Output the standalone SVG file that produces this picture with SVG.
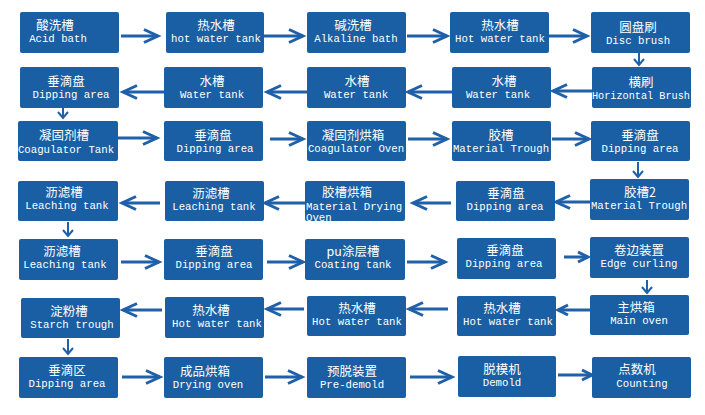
<svg xmlns="http://www.w3.org/2000/svg" width="705" height="415" viewBox="0 0 705 415">
<style>
.b{fill:#1a5fa3;}
.cn{font-family:"Noto Sans CJK SC","Noto Sans",sans-serif;font-size:12.5px;fill:#fff;text-anchor:middle;}
.en{font-family:"Liberation Mono","DejaVu Sans Mono",monospace;font-size:10.7px;fill:#fff;text-anchor:middle;}
.l{text-anchor:start;}
.a{stroke:#1f60a8;stroke-width:3;fill:none;}
.v{stroke:#1f60a8;stroke-width:2;fill:none;}
</style>
<defs>
<marker id="h" markerUnits="userSpaceOnUse" markerWidth="20" markerHeight="20" viewBox="-16 -10 20 20" refX="0" refY="0" orient="auto" overflow="visible">
<path d="M-14,-6.5 L0,0 L-14,6.5" fill="none" stroke="#1f60a8" stroke-width="3"/>
</marker>
<marker id="hs" markerUnits="userSpaceOnUse" markerWidth="20" markerHeight="20" viewBox="-16 -10 20 20" refX="0" refY="0" orient="auto" overflow="visible">
<path d="M-10,-5 L0,0 L-10,5" fill="none" stroke="#1f60a8" stroke-width="3"/>
</marker>
<marker id="hv" markerUnits="userSpaceOnUse" markerWidth="20" markerHeight="20" viewBox="-16 -10 20 20" refX="0" refY="0" orient="auto" overflow="visible">
<path d="M-6,-5 L0,0 L-6,5" fill="none" stroke="#1f60a8" stroke-width="2"/>
</marker>
</defs>
<rect width="705" height="415" fill="#fff"/>

<g id="connectors">
<line class="a" x1="121" y1="36" x2="158" y2="36" marker-end="url(#h)"/>
<line class="a" x1="264" y1="36" x2="303" y2="36" marker-end="url(#h)"/>
<line class="a" x1="407" y1="36" x2="447" y2="36" marker-end="url(#h)"/>
<line class="a" x1="549" y1="36" x2="587" y2="36" marker-end="url(#h)"/>
<line class="v" x1="639" y1="53" x2="639" y2="65" marker-end="url(#hv)"/>
<line class="a" x1="592" y1="91" x2="553" y2="91" marker-end="url(#h)"/>
<line class="a" x1="452" y1="92" x2="408" y2="92" marker-end="url(#h)"/>
<line class="a" x1="307" y1="92" x2="267" y2="92" marker-end="url(#h)"/>
<line class="a" x1="164" y1="92" x2="123" y2="92" marker-end="url(#h)"/>
<line class="v" x1="63" y1="108" x2="63" y2="118" marker-end="url(#hv)"/>
<line class="a" x1="118" y1="138" x2="157" y2="138" marker-end="url(#h)"/>
<line class="a" x1="270" y1="139" x2="303" y2="139" marker-end="url(#h)"/>
<line class="a" x1="408" y1="139" x2="447" y2="139" marker-end="url(#h)"/>
<line class="a" x1="552" y1="139" x2="589" y2="139" marker-end="url(#h)"/>
<line class="v" x1="638" y1="162" x2="638" y2="177" marker-end="url(#hv)"/>
<line class="a" x1="590" y1="202" x2="556" y2="202" marker-end="url(#h)"/>
<line class="a" x1="451" y1="203" x2="413" y2="203" marker-end="url(#h)"/>
<line class="a" x1="305" y1="203" x2="265" y2="203" marker-end="url(#h)"/>
<line class="a" x1="160" y1="203" x2="122" y2="203" marker-end="url(#h)"/>
<line class="v" x1="68" y1="222" x2="68" y2="236" marker-end="url(#hv)"/>
<line class="a" x1="121" y1="262" x2="159" y2="262" marker-end="url(#h)"/>
<line class="a" x1="267" y1="262" x2="303" y2="262" marker-end="url(#h)"/>
<line class="a" x1="407" y1="262" x2="445" y2="262" marker-end="url(#h)"/>
<line class="a" x1="564" y1="257" x2="588" y2="257" marker-end="url(#hs)"/>
<line class="v" x1="647" y1="280" x2="647" y2="293" marker-end="url(#hv)"/>
<line class="a" x1="590" y1="310" x2="558" y2="310" marker-end="url(#hs)"/>
<line class="a" x1="448" y1="309" x2="409" y2="309" marker-end="url(#h)"/>
<line class="a" x1="304" y1="309" x2="267" y2="309" marker-end="url(#h)"/>
<line class="a" x1="162" y1="310" x2="123" y2="310" marker-end="url(#h)"/>
<line class="v" x1="68" y1="339" x2="68" y2="354" marker-end="url(#hv)"/>
<line class="a" x1="122" y1="377" x2="160" y2="377" marker-end="url(#h)"/>
<line class="a" x1="265" y1="377" x2="302" y2="377" marker-end="url(#h)"/>
<line class="a" x1="410" y1="377" x2="452" y2="377" marker-end="url(#h)"/>
<line class="a" x1="558" y1="375" x2="592" y2="375" marker-end="url(#hs)"/>
</g>

<g id="n1"><rect class="b" x="20" y="12" width="99" height="41" rx="2"/><text class="cn" x="55" y="30">酸洗槽</text><text class="en" x="58" y="42">Acid bath</text></g>
<g id="n2"><rect class="b" x="166" y="12" width="98" height="41" rx="2"/><text class="cn" x="216" y="30">热水槽</text><text class="en" x="216" y="42">hot water tank</text></g>
<g id="n3"><rect class="b" x="307" y="12" width="99" height="41" rx="2"/><text class="cn" x="353" y="30">碱洗槽</text><text class="en" x="356" y="42">Alkaline bath</text></g>
<g id="n4"><rect class="b" x="450" y="12" width="99" height="41" rx="2"/><text class="cn" x="500" y="30">热水槽</text><text class="en" x="500" y="42">Hot water tank</text></g>
<g id="n5"><rect class="b" x="591" y="12" width="99" height="41" rx="2"/><text class="cn" x="638" y="32">圆盘刷</text><text class="en" x="638" y="44">Disc brush</text></g>

<g id="n6"><rect class="b" x="20" y="67" width="99" height="41" rx="2"/><text class="cn" x="66" y="86">垂滴盘</text><text class="en" x="71" y="98">Dipping area</text></g>
<g id="n7"><rect class="b" x="164" y="67" width="99" height="41" rx="2"/><text class="cn" x="212" y="86">水槽</text><text class="en" x="212" y="98">Water tank</text></g>
<g id="n8"><rect class="b" x="307" y="67" width="99" height="41" rx="2"/><text class="cn" x="357" y="86">水槽</text><text class="en" x="356" y="98">Water tank</text></g>
<g id="n9"><rect class="b" x="452" y="67" width="99" height="41" rx="2"/><text class="cn" x="504" y="86">水槽</text><text class="en" x="498" y="98">Water tank</text></g>
<g id="n10"><rect class="b" x="592" y="67" width="99" height="41" rx="2"/><text class="cn" x="641" y="87">横刷</text><text class="en" x="641" y="99" textLength="98" lengthAdjust="spacingAndGlyphs">Horizontal Brush</text></g>

<g id="n11"><rect class="b" x="18" y="121" width="100" height="40" rx="2"/><text class="cn" x="64" y="140">凝固剂槽</text><text class="en" x="66" y="153">Coagulator Tank</text></g>
<g id="n12"><rect class="b" x="164" y="121" width="99" height="40" rx="2"/><text class="cn" x="213" y="140">垂滴盘</text><text class="en" x="215" y="152">Dipping area</text></g>
<g id="n13"><rect class="b" x="307" y="121" width="99" height="40" rx="2"/><text class="cn" x="353" y="140">凝固剂烘箱</text><text class="en" x="356" y="152">Coagulator Oven</text></g>
<g id="n14"><rect class="b" x="452" y="121" width="99" height="40" rx="2"/><text class="cn" x="501" y="140">胶槽</text><text class="en" x="501" y="152">Material Trough</text></g>
<g id="n15"><rect class="b" x="591" y="121" width="99" height="40" rx="2"/><text class="cn" x="640" y="140">垂滴盘</text><text class="en" x="640" y="152">Dipping area</text></g>

<g id="n16"><rect class="b" x="18" y="181" width="100" height="40" rx="2"/><text class="cn" x="64" y="197">沥滤槽</text><text class="en" x="67" y="209">Leaching tank</text></g>
<g id="n17"><rect class="b" x="165" y="181" width="99" height="40" rx="2"/><text class="cn" x="211" y="198">沥滤槽</text><text class="en" x="214" y="210">Leaching tank</text></g>
<g id="n18"><rect class="b" x="305" y="181" width="100" height="40" rx="2"/><text class="cn" x="347" y="197">胶槽烘箱</text><text class="en l" x="306" y="210">Material Drying</text><text class="en l" x="306" y="220.5">Oven</text></g>
<g id="n19"><rect class="b" x="456" y="181" width="99" height="40" rx="2"/><text class="cn" x="506" y="198">垂滴盘</text><text class="en" x="505" y="210">Dipping area</text></g>
<g id="n20"><rect class="b" x="590" y="179" width="99" height="41" rx="2"/><text class="cn" x="640" y="197">胶槽2</text><text class="en" x="639" y="209">Material Trough</text></g>

<g id="n21"><rect class="b" x="19" y="239" width="99" height="41" rx="2"/><text class="cn" x="62" y="256">沥滤槽</text><text class="en" x="65" y="268">Leaching tank</text></g>
<g id="n22"><rect class="b" x="164" y="239" width="99" height="41" rx="2"/><text class="cn" x="214" y="256">垂滴盘</text><text class="en" x="214" y="268">Dipping area</text></g>
<g id="n23"><rect class="b" x="305" y="239" width="100" height="41" rx="2"/><text class="cn" x="353" y="256">pu涂层槽</text><text class="en" x="353" y="268">Coating tank</text></g>
<g id="n24"><rect class="b" x="457" y="238" width="99" height="41" rx="2"/><text class="cn" x="505" y="255">垂滴盘</text><text class="en" x="504" y="267">Dipping area</text></g>
<g id="n25"><rect class="b" x="590" y="237" width="99" height="41" rx="2"/><text class="cn" x="639" y="255">卷边装置</text><text class="en" x="639" y="267">Edge curling</text></g>

<g id="n26"><rect class="b" x="21" y="298" width="99" height="40" rx="2"/><text class="cn" x="69" y="316">淀粉槽</text><text class="en" x="72" y="328">Starch trough</text></g>
<g id="n27"><rect class="b" x="165" y="297" width="99" height="41" rx="2"/><text class="cn" x="211" y="315">热水槽</text><text class="en" x="217" y="327">Hot water tank</text></g>
<g id="n28"><rect class="b" x="307" y="296" width="99" height="40" rx="2"/><text class="cn" x="357" y="313">热水槽</text><text class="en" x="357" y="325">Hot water tank</text></g>
<g id="n29"><rect class="b" x="457" y="296" width="99" height="40" rx="2"/><text class="cn" x="502" y="313">热水槽</text><text class="en" x="508" y="325">Hot water tank</text></g>
<g id="n30"><rect class="b" x="590" y="295" width="99" height="40" rx="2"/><text class="cn" x="636" y="312">主烘箱</text><text class="en" x="639" y="324">Main oven</text></g>

<g id="n31"><rect class="b" x="19" y="357" width="99" height="41" rx="2"/><text class="cn" x="67" y="375">垂滴区</text><text class="en" x="67" y="387">Dipping area</text></g>
<g id="n32"><rect class="b" x="164" y="357" width="99" height="41" rx="2"/><text class="cn" x="205" y="376">成品烘箱</text><text class="en" x="208" y="388">Drying oven</text></g>
<g id="n33"><rect class="b" x="307" y="357" width="99" height="41" rx="2"/><text class="cn" x="352" y="376">预脱装置</text><text class="en" x="352" y="388">Pre-demold</text></g>
<g id="n34"><rect class="b" x="458" y="356" width="98" height="41" rx="2"/><text class="cn" x="502" y="374">脱模机</text><text class="en" x="502" y="386">Demold</text></g>
<g id="n35"><rect class="b" x="592" y="357" width="99" height="41" rx="2"/><text class="cn" x="637" y="374">点数机</text><text class="en" x="642" y="387">Counting</text></g>
</svg>
